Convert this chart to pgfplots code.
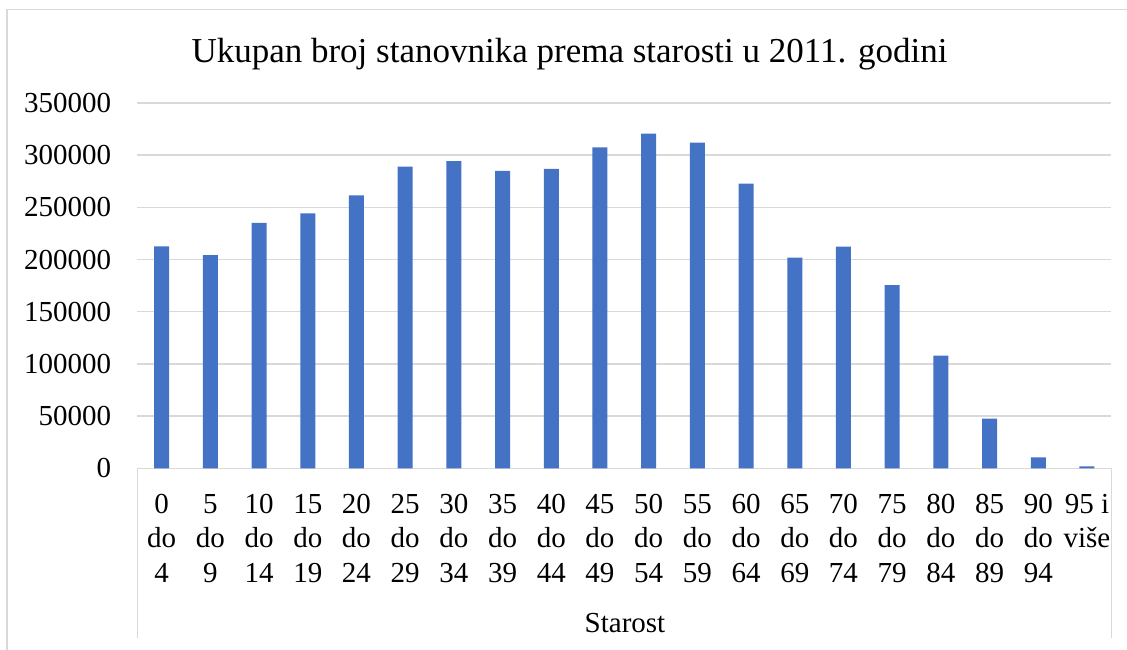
\documentclass[border=0pt]{standalone}
\usepackage{pgfplots}
\pgfplotsset{compat=1.18}
\usepackage{fontspec}
\setmainfont{Liberation Serif}
\definecolor{barblue}{HTML}{4472C4}
\definecolor{gridgray}{HTML}{D9D9D9}
\newcommand{\cl}[3]{\strut#1\\\strut#2\\\strut#3}
\begin{document}
\begin{tikzpicture}
\path[use as bounding box] (0,0) rectangle (1127pt,649pt);
\draw[gridgray, line width=1.3pt] (7pt,-20pt) -- (7pt,639.7pt) -- (1150pt,639.7pt);
\node[anchor=base, font=\fontsize{35}{42}\selectfont] at (569.5pt,586.5pt) {Ukupan broj stanovnika prema starosti u 2011. godini};
\begin{axis}[
  at={(137.3pt,180.7pt)}, anchor=south west,
  scale only axis, width=974pt, height=365.4pt,
  xmin=-0.5, xmax=19.5, ymin=0, ymax=350000,
  scaled y ticks=false,
  axis line style={draw=none},
  major tick style={draw=none},
  ymajorgrids,
  grid style={gridgray, line width=1.3pt},
  ytick={0,50000,100000,150000,200000,250000,300000,350000},
  yticklabels={0,50000,100000,150000,200000,250000,300000,350000},
  xtick={0,...,19},
  xticklabels={{\cl{0}{do}{4}},{\cl{5}{do}{9}},{\cl{10}{do}{14}},{\cl{15}{do}{19}},{\cl{20}{do}{24}},{\cl{25}{do}{29}},{\cl{30}{do}{34}},{\cl{35}{do}{39}},{\cl{40}{do}{44}},{\cl{45}{do}{49}},{\cl{50}{do}{54}},{\cl{55}{do}{59}},{\cl{60}{do}{64}},{\cl{65}{do}{69}},{\cl{70}{do}{74}},{\cl{75}{do}{79}},{\cl{80}{do}{84}},{\cl{85}{do}{89}},{\cl{90}{do}{94}},{\strut 95 i\\\strut više\\\strut}},
  xticklabel style={font=\fontsize{29}{34.5}\selectfont, align=center, anchor=north, inner sep=0pt, yshift=-20.5pt},
  yticklabel style={font=\fontsize{29}{34.5}\selectfont, anchor=east, inner sep=0pt, xshift=-26pt},
  /pgf/number format/assume math mode=true,
]
\addplot[ybar, bar width=15pt, fill=barblue, draw=none] coordinates {
(0,212600) (1,204300) (2,235200) (3,244300) (4,261500) (5,288900) (6,294300) (7,284800) (8,286700) (9,307500)
(10,320500) (11,311900) (12,272600) (13,201700) (14,212300) (15,175400) (16,107900) (17,47500) (18,10500) (19,1900)
};
\end{axis}
\draw[gridgray, line width=1.3pt] (137.3pt,180.7pt) -- (137.3pt,11pt);
\draw[gridgray, line width=1.3pt] (1111.3pt,180.7pt) -- (1111.3pt,11pt);
\node[anchor=base, font=\fontsize{29}{35}\selectfont] at (625pt,16.3pt) {Starost};
\end{tikzpicture}
\end{document}
